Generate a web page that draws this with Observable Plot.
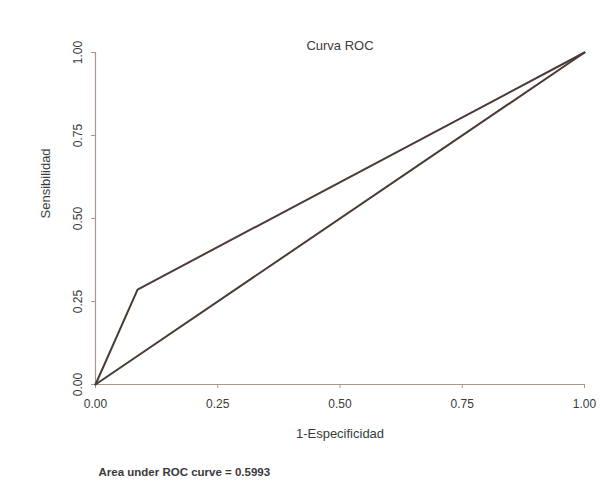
<!DOCTYPE html>
<html>
<head>
<meta charset="utf-8">
<script src="https://cdn.jsdelivr.net/npm/d3@7"></script>
<script src="https://cdn.jsdelivr.net/npm/@observablehq/plot@0.6"></script>
<style>
  html, body { margin: 0; padding: 0; background: #ffffff; }
  #chart { width: 600px; height: 498px; }
</style>
</head>
<body>
<div id="chart"></div>
<script>
// ROC curve vertices (1-Especificidad, Sensibilidad)
const rocFpr = [0, 0.086, 1];
const rocTpr = [0, 0.286, 1];
// Reference diagonal
const diagFpr = [0, 1];
const diagTpr = [0, 1];
const tickValues = [0, 0.25, 0.5, 0.75, 1];
const titleText = "Curva ROC";
const xLabel = "1-Especificidad";
const yLabel = "Sensibilidad";
const captionText = "Area under ROC curve = 0.5993";

const roc = rocFpr.map((x, i) => ({x, y: rocTpr[i]}));
const diag = diagFpr.map((x, i) => ({x, y: diagTpr[i]}));

const lineColor = "#4a3b36";
const axisColor = "#a8998f";
const textColor = "#3a3a3a";
const font = "'Liberation Sans', Arial, sans-serif";

const chart = Plot.plot({
  width: 600,
  height: 498,
  marginLeft: 95,
  marginRight: 16,
  marginTop: 52,
  marginBottom: 114,
  style: {fontFamily: font, fontSize: "12px", color: textColor, background: "#ffffff"},
  x: {domain: [0, 1]},
  y: {domain: [0, 1]},
  marks: [
    Plot.ruleY([0], {stroke: axisColor, strokeWidth: 1.2}),
    Plot.ruleX([0], {stroke: axisColor, strokeWidth: 1.2}),
    Plot.axisX({ticks: tickValues, tickFormat: d3.format(".2f"), tickSize: 4, tickPadding: 11, stroke: axisColor, fill: textColor, fontSize: 12, label: null}),
    Plot.axisY({ticks: tickValues, tickFormat: d3.format(".2f"), tickSize: 4, tickPadding: 10, tickRotate: -90, stroke: axisColor, fill: textColor, fontSize: 12, label: null}),
    Plot.line(diag, {x: "x", y: "y", stroke: lineColor, strokeWidth: 2}),
    Plot.line(roc, {x: "x", y: "y", stroke: lineColor, strokeWidth: 2}),
    Plot.text([titleText], {frameAnchor: "top", dy: -12, fontSize: 13, fill: textColor}),
    Plot.text([xLabel], {frameAnchor: "bottom", dy: 53, fontSize: 13, fill: textColor}),
    Plot.text([yLabel], {frameAnchor: "left", dx: -50, rotate: -90, fontSize: 13, fill: textColor}),
    Plot.text([captionText], {frameAnchor: "bottom-left", dx: 3, dy: 91, textAnchor: "start", fontSize: 11.5, fontWeight: "bold", fill: textColor})
  ]
});
document.getElementById("chart").appendChild(chart);
</script>
</body>
</html>
